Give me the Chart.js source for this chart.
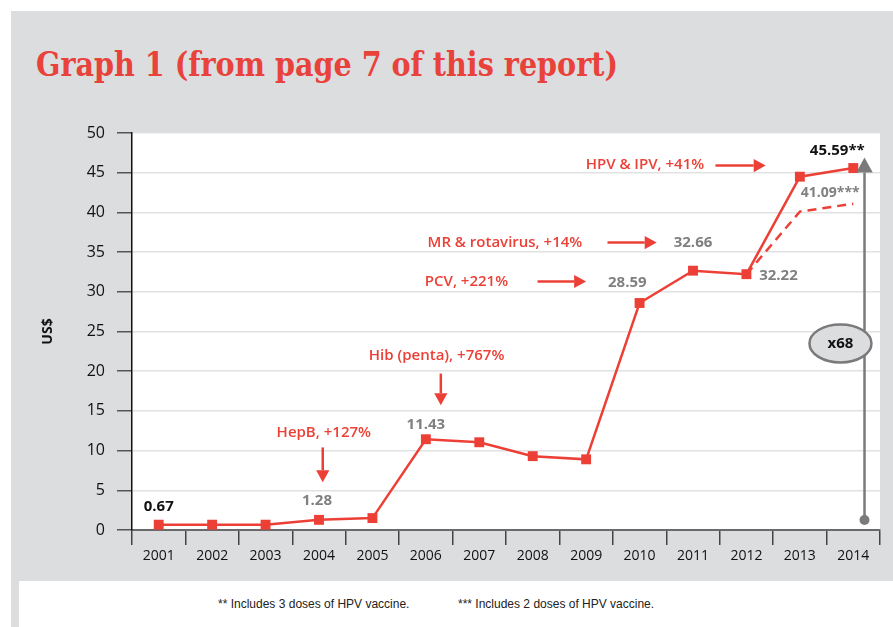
<!DOCTYPE html>
<html>
<head>
<meta charset="utf-8">
<script src="https://cdn.jsdelivr.net/npm/chart.js@4/dist/chart.umd.min.js"></script>
<style>
  html, body { margin: 0; padding: 0; background: #fff; }
  #page { position: relative; width: 893px; height: 627px; overflow: hidden; background: #fff; }
  #panel { position: absolute; left: 11px; top: 11px; width: 882px; height: 616px; background: #dcdddf; }
  #notes { position: absolute; left: 19px; top: 581px; width: 874px; height: 46px; background: #fff; }
  #title { position: absolute; left: 36px; top: 44px; white-space: nowrap; transform-origin: 0 0;
           font: bold 34px "DejaVu Serif Condensed", "DejaVu Serif", serif; color: #e8423a; }
  .note { position: absolute; top: 597px; font: 12px "Liberation Sans Narrow", "Liberation Sans", sans-serif; color: #222; white-space: nowrap; }
  #chartBox { position: absolute; left: 11px; top: 11px; width: 882px; height: 570px; }
</style>
</head>
<body>
<div id="page">
  <div id="panel"></div>
  <div id="notes"></div>
  <div id="title">Graph 1 (from page 7 of this report)</div>
  <div class="note" style="left:218px">** Includes 3 doses of HPV vaccine.</div>
  <div class="note" style="left:458px">*** Includes 2 doses of HPV vaccine.</div>
  <div id="chartBox"><canvas id="costChart" width="882" height="570"></canvas></div>
</div>
<script>
const years = ["2001", "2002", "2003", "2004", "2005", "2006", "2007",
               "2008", "2009", "2010", "2011", "2012", "2013", "2014"];
// price of the full vaccine package per child, US$
const costThreeDoses = [0.67, 0.67, 0.67, 1.28, 1.5, 11.43, 11.05,
                        9.3, 8.9, 28.59, 32.66, 32.22, 44.5, 45.59];
// same package with 2 doses of HPV vaccine
const costTwoDoses = [null, null, null, null, null, null, null,
                      null, null, null, null, 32.22, 40.1, 41.09];
const yTicks = [0, 5, 10, 15, 20, 25, 30, 35, 40, 45, 50];

// value labels: [index, value shown, suffix, colour, dx, dy]
const valueLabels = [
  [0, costThreeDoses[0], "", "#111", 0, -18],
  [3, costThreeDoses[3], "", "#808080", -2, -19],
  [5, costThreeDoses[5], "", "#808080", 0, -15],
  [13, costTwoDoses[13], "***", "#808080", -23, -11],
  [13, costThreeDoses[13], "**", "#111", -16, -17],
];

const RED = "#ec4037";
const GREY = "#7a7a7c";

// fit the title to its printed width
(function () {
  const t = document.getElementById("title");
  const c = document.createElement("canvas").getContext("2d");
  c.font = getComputedStyle(t).font;
  const w = c.measureText(t.textContent).width;
  t.style.transform = "scaleX(" + (582 / w) + ")";
})();

function arrow(ctx, x1, y1, x2, y2, color, width, head) {
  const a = Math.atan2(y2 - y1, x2 - x1);
  const c = Math.cos(a), s = Math.sin(a);
  ctx.save();
  ctx.strokeStyle = color;
  ctx.fillStyle = color;
  ctx.lineWidth = width;
  ctx.beginPath();
  ctx.moveTo(x1, y1);
  ctx.lineTo(x2 - c * head, y2 - s * head);
  ctx.stroke();
  ctx.beginPath();
  ctx.moveTo(x2, y2);
  ctx.lineTo(x2 - c * head - s * head * 0.55, y2 - s * head + c * head * 0.55);
  ctx.lineTo(x2 - c * head + s * head * 0.55, y2 - s * head - c * head * 0.55);
  ctx.closePath();
  ctx.fill();
  ctx.restore();
}

const plotBackground = {
  id: "plotBackground",
  beforeDraw(chart) {
    const { ctx, chartArea: a } = chart;
    ctx.save();
    ctx.fillStyle = "#fff";
    ctx.fillRect(a.left, a.top, a.right - a.left, a.bottom - a.top);
    ctx.restore();
  },
};

const notes = {
  id: "notes",
  afterDatasetsDraw(chart) {
    const { ctx } = chart;
    const x = chart.scales.x, y = chart.scales.y;
    const px = (i) => x.getPixelForValue(i);
    const py = (v) => y.getPixelForValue(v);

    ctx.save();
    // axis title
    ctx.save();
    ctx.translate(37, py(25));
    ctx.rotate(-Math.PI / 2);
    ctx.font = "bold 14px 'Open Sans'";
    ctx.fillStyle = "#111";
    ctx.textAlign = "center";
    ctx.textBaseline = "middle";
    ctx.fillText("US$", 0, 0);
    ctx.restore();

    ctx.textAlign = "center";
    ctx.textBaseline = "middle";

    // values above the line
    valueLabels.forEach(([i, v, suf, col, dx, dy]) => {
      ctx.font = suf === "***" ? "bold 14px 'Open Sans'" : "bold 15px 'Open Sans'";
      ctx.fillStyle = col;
      ctx.fillText(v.toFixed(2) + suf, px(i) + dx, py(v) + dy);
    });
    ctx.font = "bold 15px 'Open Sans'";
    ctx.fillStyle = "#808080";
    ctx.fillText(costThreeDoses[9].toFixed(2), px(8.77), py(31.2));
    ctx.fillText(costThreeDoses[10].toFixed(2), px(10.0), py(36.2));
    ctx.fillText(costThreeDoses[11].toFixed(2), px(11.6), py(32.0));

    // vaccine introductions
    ctx.font = "600 15px 'Open Sans'";
    ctx.fillStyle = RED;
    ctx.fillText("HepB, +127%", px(3.09), py(12.3));
    arrow(ctx, px(3.07), py(10.4), px(3.07), py(6.0), RED, 2.5, 12);
    ctx.fillText("Hib (penta), +767%", px(5.2), py(22.0));
    arrow(ctx, px(5.28), py(19.7), px(5.28), py(15.7), RED, 2.5, 12);
    ctx.fillText("PCV, +221%", px(5.76), py(31.3));
    arrow(ctx, px(7.09), py(31.3), px(8.0), py(31.3), RED, 2.5, 12);
    ctx.fillText("MR & rotavirus, +14%", px(6.48), py(36.2));
    arrow(ctx, px(8.4), py(36.2), px(9.32), py(36.2), RED, 2.5, 12);
    ctx.fillText("HPV & IPV, +41%", px(9.1), py(46.0));
    arrow(ctx, px(10.42), py(45.9), px(11.36), py(45.9), RED, 2.5, 12);

    // growth marker
    const gx = px(13.21);
    ctx.fillStyle = GREY;
    ctx.beginPath();
    ctx.arc(gx, py(1.26), 5, 0, Math.PI * 2);
    ctx.fill();
    arrow(ctx, gx, py(1.26), gx, py(46.9), GREY, 2.5, 15);
    ctx.beginPath();
    ctx.ellipse(px(12.76), py(23.5), 31, 19, 0, 0, Math.PI * 2);
    ctx.fillStyle = "#dcdddf";
    ctx.fill();
    ctx.lineWidth = 2.5;
    ctx.strokeStyle = GREY;
    ctx.stroke();
    ctx.font = "bold 15px 'Open Sans'";
    ctx.fillStyle = "#111";
    ctx.fillText("x68", px(12.76), py(23.5));
    ctx.restore();
  },
};

new Chart(document.getElementById("costChart"), {
  type: "line",
  data: {
    labels: years,
    datasets: [
      {
        data: costTwoDoses,
        borderColor: RED,
        borderWidth: 2.5,
        borderDash: [9, 6],
        pointRadius: 0,
        tension: 0,
      },
      {
        data: costThreeDoses,
        borderColor: RED,
        backgroundColor: RED,
        borderWidth: 2.5,
        pointStyle: "rect",
        pointRadius: 7,
        pointBorderWidth: 0,
        tension: 0,
      },
    ],
  },
  options: {
    responsive: false,
    animation: false,
    devicePixelRatio: 1,
    layout: { padding: { top: 122, right: 13, left: 0, bottom: 0 } },
    plugins: { legend: false, tooltip: { enabled: false } },
    scales: {
      x: {
        offset: true,
        afterFit: (s) => { s.height = 51; },
        grid: { drawOnChartArea: false, offset: true, tickLength: 15, tickColor: "#444", lineWidth: 1.5 },
        border: { color: "#6a6a6a", width: 2 },
        ticks: { color: "#111", padding: 3, font: { family: "Open Sans", size: 14 }, maxRotation: 0 },
      },
      y: {
        min: 0,
        max: 50,
        afterFit: (s) => { s.width = 121; },
        afterBuildTicks: (s) => { s.ticks = yTicks.map((v) => ({ value: v })); },
        grid: { color: "#e2e2e2", lineWidth: 1.5, tickLength: 15, tickColor: "#555" },
        border: { color: "#111", width: 1.5 },
        ticks: { color: "#111", padding: 12, font: { family: "Open Sans", size: 16 } },
      },
    },
  },
  plugins: [plotBackground, notes],
});
</script>
</body>
</html>
